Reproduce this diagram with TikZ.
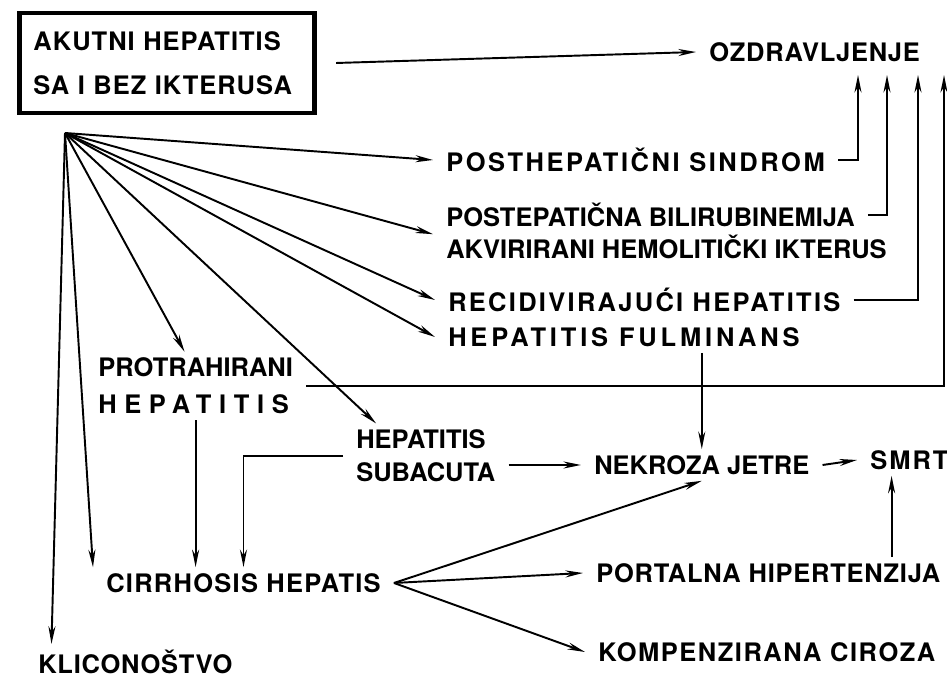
\documentclass[tikz,border=0pt]{standalone}
\usepackage{fontspec}
\setmainfont{TeX Gyre Heros}
\usetikzlibrary{arrows.meta,calc}

\begin{document}
\begin{tikzpicture}[x=0.02cm, y=-0.02cm, line width=1.1pt, >={Stealth[length=10pt, width=4pt]},
		txt/.style={anchor=west, inner xsep=7pt, inner ysep=3pt, align=left,
			font=\fontsize{14.5}{20}\selectfont\bfseries\addfontfeatures{LetterSpace=#1}},
		txt/.default=4]
	\useasboundingbox (0,0) rectangle (947,678);
	
	% --- 1. polazni okvir ---
	\node[draw, line width=2.5pt, text width=152pt, inner xsep=8pt, minimum height=57pt, align=left,
		font=\fontsize{14.5}{25}\selectfont\bfseries\addfontfeatures{LetterSpace=4}] (akut) at (167,63) {AKUTNI HEPATITIS\\SA I BEZ IKTERUSA};
	\coordinate (fan) at (65,133);
	
	% --- 2. desni stupac ---
	\node[txt=3] (oz) at (696,52) {OZDRAVLJENJE};
	\node[txt=10] (ps) at (433,160) {POSTHEPATIČNI SINDROM};
	\node[txt=0] (pb) at (433,215) {POSTEPATIČNA BILIRUBINEMIJA};
	\node[txt=0] (ak) at (433,247) {AKVIRIRANI HEMOLITIČKI IKTERUS};
	\node[txt=9] (rh) at (435,300) {RECIDIVIRAJUĆI HEPATITIS};
	\node[txt=15] (hf) at (435,337) {HEPATITIS FULMINANS};
	
	% ulazi u OZDRAVLJENJE
	\coordinate (u1) at (858,75);
	\coordinate (u2) at (887,75);
	\coordinate (u3) at (918,75);
	\coordinate (u4) at (944,75);
	
	% --- 3. srednji dio ---
	\node[txt=0, font=\fontsize{14.5}{21}\selectfont\bfseries] (pr) at (85,386) {PROTRAHIRANI\\
		\addfontfeatures{LetterSpace=30}HEPATITIS};
	\node[txt=6, font=\fontsize{14.5}{19}\selectfont\bfseries] (hs) at (343,456) {HEPATITIS\\SUBACUTA};
	\node[txt=0] (nj) at (581,465) {NEKROZA JETRE};
	\node[txt=8] (sm) at (857,460) {SMRT};
	
	% --- 4. donji dio ---
	\node[txt=5] (ch) at (93,583) {CIRRHOSIS HEPATIS};
	\node[txt=3] (pt) at (583,573) {PORTALNA HIPERTENZIJA};
	\node[txt=6] (kc) at (585,652) {KOMPENZIRANA CIROZA};
	\node[txt=3] (kl) at (25,662) {KLICONOŠTVO};
	
	% --- 5. strelice ---
	\draw[->] (akut.east) ++(11pt,0) -- (oz.west);
	
	% lepeza iz akutnog hepatitisa
	\draw[->] (fan) -- (ps.west);
	\draw[->] (fan) -- ($(pb.west)!0.6!(ak.west)$);
	\draw[->] (fan) -- (rh.west);
	\draw[->] (fan) -- (hf.west);
	\draw[->] (fan) -- ($(hs.north west)!0.2!(hs.north east)$);
	\draw[->] (fan) -- ($(pr.north west)!0.45!(pr.north east)$);
	\draw[->] (fan) -- (ch.north west);
	\draw[->] (fan) -- ($(kl.north west)!0.12!(kl.north east)$);
	
	% povratak u ozdravljenje
	\draw[->] (ps.east) -| (u1);
	\draw[->] (pb.east) -| (u2);
	\draw[->] (rh.east) -| (u3);
	\draw[->] (pr.east) -| (u4);
	
	% tok bolesti
	\draw[->] (pr.south) -- (pr.south |- ch.north);
	\draw[->] (hs.west) -| (ch.north);
	\draw[->] (hs.east |- nj) -- (nj.west);
	\draw[->] (nj.north |- hf.south) -- (nj.north);
	\draw[->] (nj.east) -- (sm.west);
	\draw[->] (pt.north -| {$(sm.south west)!0.33!(sm.south east)$}) -- ($(sm.south west)!0.33!(sm.south east)$);
	
	% ishodi ciroze
	\draw[->] (ch.east) -- (nj.south);
	\draw[->] (ch.east) -- (pt.west);
	\draw[->] (ch.east) -- (kc.west);
\end{tikzpicture}
\end{document}
